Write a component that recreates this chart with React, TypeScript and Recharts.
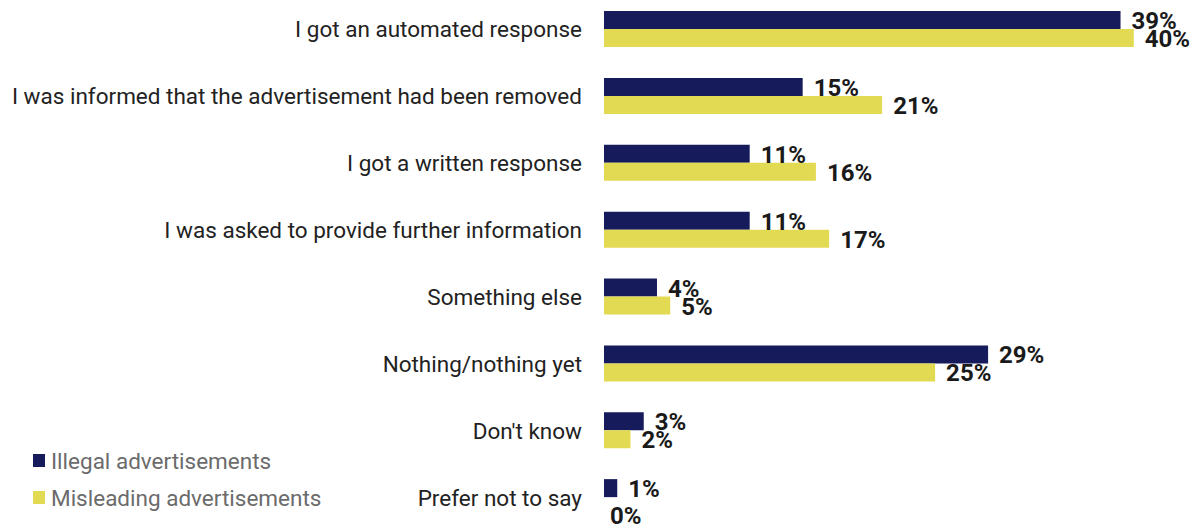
import { BarChart, Bar, XAxis, YAxis, LabelList } from "recharts";

const categories = [
  "I got an automated response",
  "I was informed that the advertisement had been removed",
  "I got a written response",
  "I was asked to provide further information",
  "Something else",
  "Nothing/nothing yet",
  "Don't know",
  "Prefer not to say",
];
const illegal = [39, 15, 11, 11, 4, 29, 3, 1];
const misleading = [40, 21, 16, 17, 5, 25, 2, 0];

const seriesNames = ["Illegal advertisements", "Misleading advertisements"];
const NAVY = "#151b5b";
const YELLOW = "#e3da53";

const data = categories.map((name, i) => ({
  name,
  illegal: illegal[i],
  misleading: misleading[i],
}));

const FONT = "Roboto, 'Noto Sans', sans-serif";

// value in % at the end of the bar; the 0% label sits a bit lower, as in the original
function ValueLabel(props: any) {
  const { x, y, width, height, value } = props;
  const zero = Number(value) === 0;
  return (
    <text
      x={x + width + (zero ? 6 : 11)}
      y={y + height / 2 + (zero ? 10 : 1)}
      dominantBaseline="central"
      fontFamily={FONT}
      fontSize={24}
      fontWeight={700}
      fill="#1a1a1a"
    >
      {`${value}%`}
    </text>
  );
}

function CategoryTick({ x, y, payload }: any) {
  return (
    <text
      x={x - 14}
      y={y}
      dy={8}
      textAnchor="end"
      fontFamily={FONT}
      fontSize={22.5}
      fill="#222"
    >
      {payload.value}
    </text>
  );
}

function LegendBox() {
  const colors = [NAVY, YELLOW];
  return (
    <div style={{ position: "absolute", left: 33, top: 442, fontFamily: FONT }}>
      {seriesNames.map((s, i) => (
        <div key={s} style={{ display: "flex", alignItems: "center", height: 37 }}>
          <span
            style={{
              width: 12,
              height: 13,
              background: colors[i],
              marginRight: 6,
              display: "inline-block",
            }}
          />
          <span style={{ fontSize: 22.5, color: "#6b6b6b" }}>{s}</span>
        </div>
      ))}
    </div>
  );
}

export default function App() {
  return (
    <div style={{ position: "absolute", left: 0, top: 0, width: 1200, height: 529 }}>
      <div style={{ position: "absolute", left: 0, top: -4.5 }}>
        <BarChart
          width={1200}
          height={535}
          data={data}
          layout="vertical"
          margin={{ top: 0, right: 0, bottom: 0, left: 0 }}
          barGap={0}
        >
          <XAxis type="number" domain={[0, 45]} hide />
          <YAxis
            type="category"
            dataKey="name"
            width={604}
            axisLine={false}
            tickLine={false}
            tick={<CategoryTick />}
            interval={0}
          />
          <Bar dataKey="illegal" fill={NAVY} barSize={18} isAnimationActive={false}>
            <LabelList dataKey="illegal" content={ValueLabel} />
          </Bar>
          <Bar
            dataKey="misleading"
            fill={YELLOW}
            barSize={18}
            minPointSize={0.01}
            isAnimationActive={false}
          >
            <LabelList dataKey="misleading" content={ValueLabel} />
          </Bar>
        </BarChart>
      </div>
      <LegendBox />
    </div>
  );
}
